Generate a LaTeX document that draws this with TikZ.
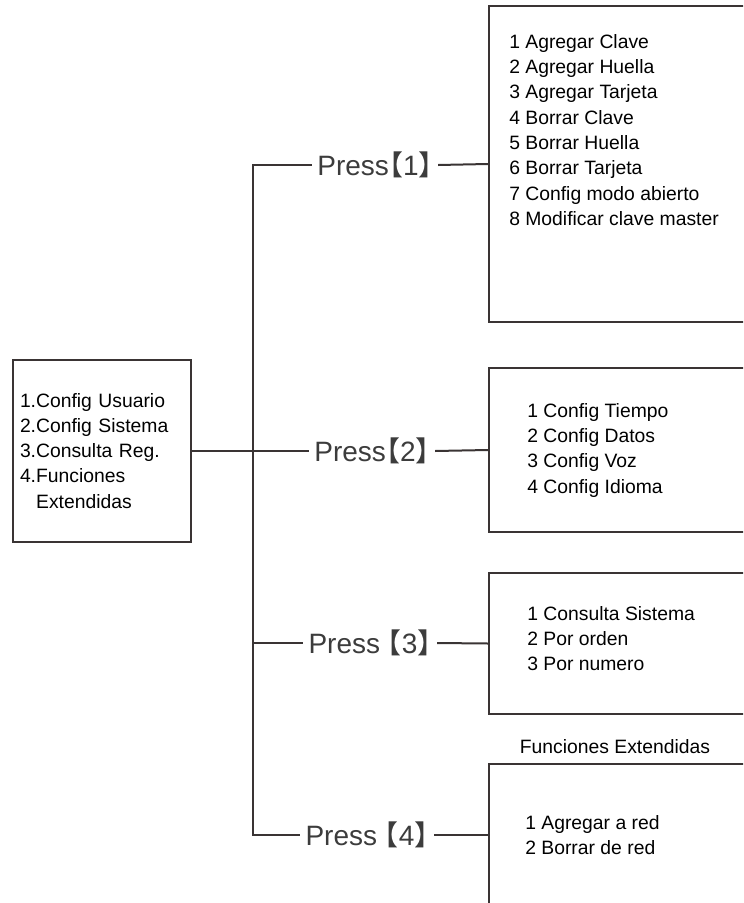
\documentclass[tikz,border=0pt]{standalone}
\usepackage{fontspec}
\setmainfont{Liberation Sans}
\newfontfamily\cjk[RawFeature={+halt}]{Noto Sans CJK SC}
\usetikzlibrary{positioning}
\definecolor{linegray}{RGB}{58,52,52}
\definecolor{pressgray}{RGB}{60,60,60}

\begin{document}
\begin{tikzpicture}[x=0.75pt, y=-0.75pt,
    menubox/.style={draw=linegray, line width=1.5pt, rectangle},
    listtext/.style={align=left, anchor=north west, inner sep=0pt, font=\fontsize{14.5}{19}\selectfont},
    presslabel/.style={text=pressgray, inner xsep=4pt, inner ysep=2pt, font=\fontsize{21}{24}\selectfont},
    conn/.style={draw=linegray, line width=1.5pt}]
    \useasboundingbox (0,0) rectangle (743,903);
    \clip (0,0) rectangle (743,903);

    % Main menu box
    \node[menubox, minimum width=133.5pt, minimum height=136.5pt, text width=123pt,
      inner xsep=5.25pt, align=left, font=\fontsize{14.5}{18.8}\selectfont] (menu) at (102,451)
      {1.Config Usuario\\2.Config Sistema\\3.Consulta Reg.\\4.Funciones\\\phantom{4.}Extendidas};

    % Sub menu boxes (open to the right)
    \node[menubox, minimum width=203.25pt, minimum height=237pt] (box1) at (624.5,164) {};
    \node[menubox, minimum width=203.25pt, minimum height=123pt] (box2) at (624.5,450) {};
    \node[menubox, minimum width=203.25pt, minimum height=105.75pt] (box3) at (624.5,643.5) {};
    \node[menubox, minimum width=203.25pt, minimum height=106.5pt] (box4) at (624.5,835) {};

    % Sub menu entries
    \node[listtext] (list1) at (509,34) {1 Agregar Clave\\2 Agregar Huella\\3 Agregar Tarjeta\\4 Borrar Clave\\5 Borrar Huella\\6 Borrar Tarjeta\\7 Config modo abierto\\8 Modificar clave master};
    \node[listtext] (list2) at (527,403) {1 Config Tiempo\\2 Config Datos\\3 Config Voz\\4 Config Idioma};
    \node[listtext] (list3) at (527,606) {1 Consulta Sistema\\2 Por orden\\3 Por numero};
    \node[listtext] (list4) at (525,815) {1 Agregar a red\\2 Borrar de red};
    \node[font=\fontsize{14.5}{19}\selectfont] (exthead) at (615,747) {Funciones Extendidas};

    % Key labels
    \node[presslabel] (press1) at (375,165) {Press{\cjk【}1{\cjk】}};
    \node[presslabel] (press2) at (372,451) {Press{\cjk【}2{\cjk】}};
    \node[presslabel] (press3) at (370,643) {Press {\cjk【}3{\cjk】}};
    \node[presslabel] (press4) at (367,835) {Press {\cjk【}4{\cjk】}};

    % Trunk
    \coordinate (trunktop) at (253,165);
    \coordinate (trunkbot) at (253,835);
    \draw[conn] (press1.west) -- (trunktop) -- (trunkbot) -- (press4.west);
    \draw[conn] (press3.west) -- (press3.west -| trunktop);
    \draw[conn] (menu.east) -- (press2.west);

    % Key labels to sub menus
    \foreach \i in {1,...,4} {
      \draw[conn] (press\i.east) -- (box\i.west);
    }
\end{tikzpicture}
\end{document}
